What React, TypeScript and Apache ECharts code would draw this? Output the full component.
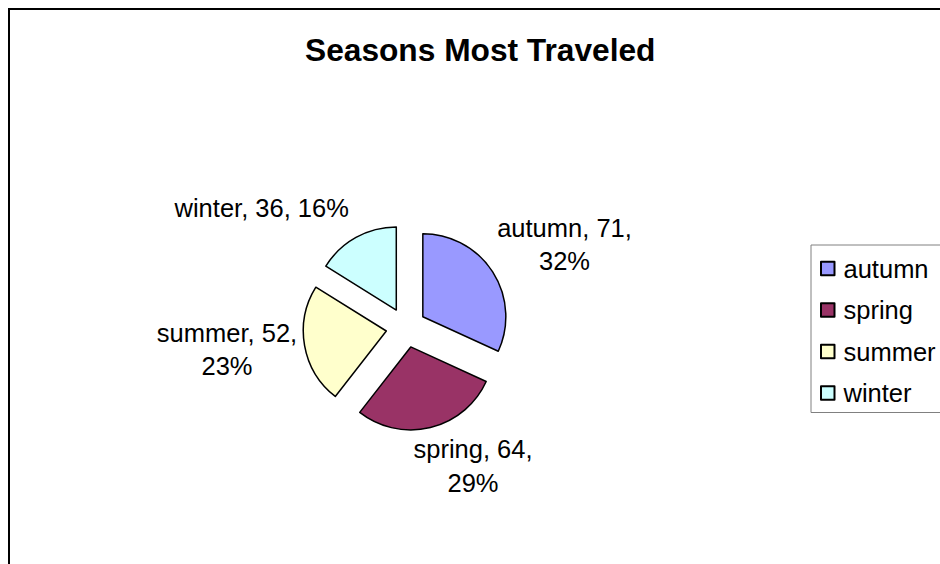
import React, { useEffect, useRef } from "react";
import * as echarts from "echarts";

const TITLE = "Seasons Most Traveled";
const CATEGORIES = ["autumn", "spring", "summer", "winter"];
const VALUES = [71, 64, 52, 36];
const COLORS = ["#9999FF", "#993366", "#FFFFCC", "#CCFFFF"];
const SINGLE_LINE_LABELS = ["winter"];

// label block centres (style only)
const LABEL_POS: number[][] = [
  [564.5, 244.5],
  [473, 466],
  [227, 349.4],
  [261.7, 208.4],
];

const FONT = "'Liberation Sans', Arial, Helvetica, sans-serif";

export default function App() {
  const ref = useRef<HTMLDivElement>(null);
  useEffect(() => {
    if (!ref.current) return;
    const chart = echarts.init(ref.current, null, { renderer: "svg" });
    const common = {
      type: "pie",
      center: [406, 327.5],
      radius: 83,
      startAngle: 90,
      clockwise: true,
      percentPrecision: 0,
      silent: true,
      emphasis: { disabled: true },
      labelLine: { show: false },
    };
    chart.setOption({
      animation: false,
      backgroundColor: "#ffffff",
      title: {
        text: TITLE,
        left: 305,
        top: 31.5,
        padding: 0,
        textStyle: {
          fontFamily: FONT,
          fontWeight: "bold",
          fontSize: 31.7,
          lineHeight: 36,
          color: "#000",
        },
      },
      graphic: [
        {
          type: "rect",
          z: -1,
          silent: true,
          shape: { x: 9, y: 9, width: 1200, height: 900 },
          style: { fill: "none", stroke: "#000", lineWidth: 2 },
        },
      ],
      legend: {
        orient: "vertical",
        left: 811,
        top: 245,
        padding: [9.5, 30, 5.5, 9],
        borderColor: "#808080",
        borderWidth: 1,
        itemWidth: 13.5,
        itemHeight: 13.5,
        itemGap: 13.5,
        icon: "rect",
        selectedMode: false,
        data: CATEGORIES,
        textStyle: {
          fontFamily: FONT,
          fontSize: 25.5,
          lineHeight: 28,
          color: "#000",
          padding: [0, 0, 0, 4],
        },
      },
      series: [
        {
          ...common,
          name: "slices",
          selectedMode: "multiple",
          selectedOffset: 20,
          itemStyle: { borderColor: "#000", borderWidth: 1.5 },
          select: { itemStyle: { borderColor: "#000", borderWidth: 1.5 } },
          label: { show: false },
          data: CATEGORIES.map((name, i) => ({
            name,
            value: VALUES[i],
            selected: true,
            itemStyle: { color: COLORS[i] },
          })),
        },
        {
          ...common,
          name: "labels",
          z: 3,
          selectedMode: false,
          legendHoverLink: false,
          itemStyle: { color: "rgba(0,0,0,0)", borderWidth: 0 },
          label: {
            show: true,
            position: "outside",
            fontFamily: FONT,
            fontSize: 25.5,
            lineHeight: 33.5,
            color: "#000",
            formatter: (p: any) =>
              SINGLE_LINE_LABELS.includes(p.name)
                ? `${p.name}, ${p.value}, ${p.percent}%`
                : `${p.name}, ${p.value},\n${p.percent}%`,
          },
          labelLayout: (params: any) => {
            const pos = LABEL_POS[params.dataIndex];
            return {
              x: pos[0],
              y: pos[1],
              align: "center",
              verticalAlign: "middle",
              hideOverlap: false,
            };
          },
          data: CATEGORIES.map((name, i) => ({
            name,
            value: VALUES[i],
          })),
        },
      ],
    });
    return () => chart.dispose();
  }, []);
  return (
    <div
      ref={ref}
      style={{
        position: "absolute",
        left: 0,
        top: 0,
        width: 940,
        height: 564,
        overflow: "hidden",
        background: "#fff",
      }}
    />
  );
}
